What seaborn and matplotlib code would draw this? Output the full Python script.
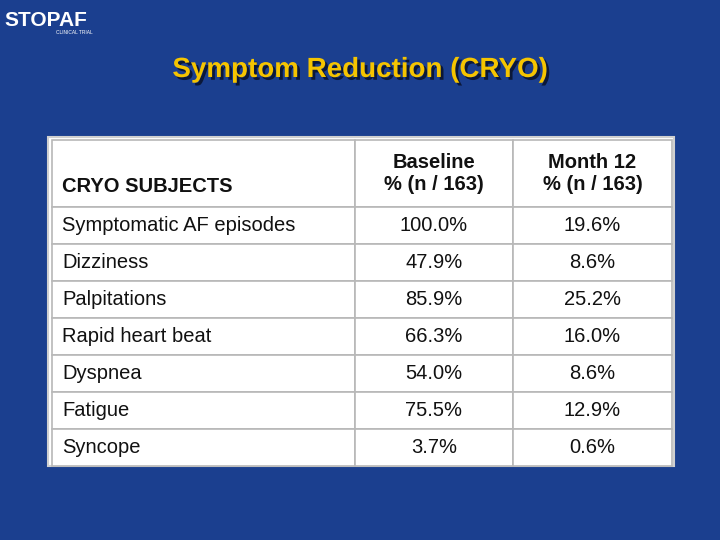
import matplotlib
matplotlib.use("Agg")
import matplotlib.pyplot as plt
import matplotlib.patheffects as pe
from matplotlib.patches import Rectangle
import seaborn as sns

sns.set_theme(style="white")
plt.rcParams["font.family"] = ["Liberation Sans", "DejaVu Sans"]

title = "Symptom Reduction (CRYO)"
header = ["CRYO SUBJECTS", "Baseline\n% (n / 163)", "Month 12\n% (n / 163)"]
symptoms = ["Symptomatic AF episodes", "Dizziness", "Palpitations", "Rapid heart beat",
            "Dyspnea", "Fatigue", "Syncope"]
baseline = [100.0, 47.9, 85.9, 66.3, 54.0, 75.5, 3.7]
month12 = [19.6, 8.6, 25.2, 16.0, 8.6, 12.9, 0.6]

fig = plt.figure(figsize=(7.2, 5.4), dpi=100)
fig.patch.set_facecolor("#1b3f8f")
ax = fig.add_axes([0, 0, 1, 1])
ax.set_xlim(0, 720)
ax.set_ylim(540, 0)
ax.axis("off")
ax.set_facecolor("#1b3f8f")

# logo
ax.text(4, 20, "STOPAF", color="white", fontsize=15, fontweight="bold", va="center")
ax.text(56, 33, "CLINICAL TRIAL", color="white", fontsize=3.5, va="center")

# title
ax.text(360, 70, title, color="#f5c400", fontsize=20, fontweight="bold", ha="center", va="center",
        path_effects=[pe.withSimplePatchShadow(offset=(2, -2), shadow_rgbFace="#0a1430", alpha=0.9)])

# table
ax.add_patch(Rectangle((48, 137), 626, 329, facecolor="white", edgecolor="#d0d0d0", lw=1.5))
col_x = [52, 355, 513, 672]
row_y = [140, 207] + [207 + 37 * (i + 1) for i in range(len(symptoms))]
rows = [header] + [[s, f"{b:.1f}%", f"{m:.1f}%"] for s, b, m in zip(symptoms, baseline, month12)]
for r, row in enumerate(rows):
    y0, y1 = row_y[r], row_y[r + 1]
    for c, txt in enumerate(row):
        x0, x1 = col_x[c], col_x[c + 1]
        ax.add_patch(Rectangle((x0, y0), x1 - x0, y1 - y0, facecolor="white",
                               edgecolor="#b8b8b8", lw=1.2))
        if c == 0:
            ax.text(x0 + 10, (y0 + y1) / 2 + (13 if r == 0 else 0), txt, fontsize=14.5,
                    va="center", ha="left", color="#111111",
                    fontweight="bold" if r == 0 else "normal")
        else:
            ax.text((x0 + x1) / 2, (y0 + y1) / 2, txt, fontsize=14.5, va="center", ha="center",
                    color="#111111", fontweight="bold" if r == 0 else "normal", linespacing=1.25)

fig.savefig("out.png", dpi=100, facecolor=fig.get_facecolor())
